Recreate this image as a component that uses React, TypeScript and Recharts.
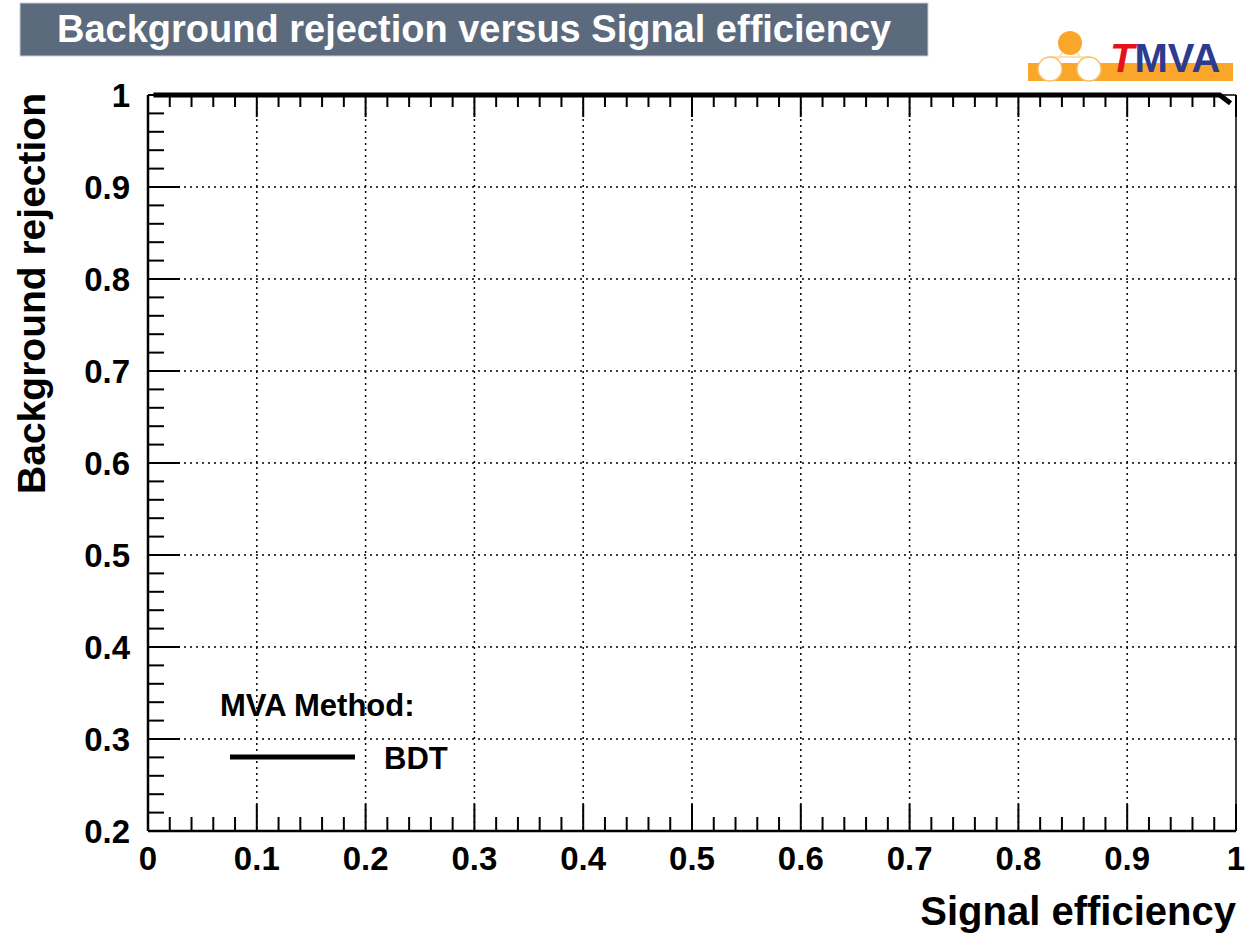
import React from 'react';
import {
  LineChart,
  Line,
  XAxis,
  YAxis,
  CartesianGrid,
  Legend,
} from 'recharts';

// ROC curve of the BDT classifier (signal efficiency vs background rejection)
const efficiency = [0.005, 0.105, 0.205, 0.305, 0.405, 0.505, 0.605, 0.705, 0.805, 0.905, 0.985, 0.995];
const rejection = [1, 1, 1, 1, 1, 1, 1, 1, 1, 1, 1, 0.991];

const xMajorTicks = [0, 0.1, 0.2, 0.3, 0.4, 0.5, 0.6, 0.7, 0.8, 0.9, 1];
const xMinorTicks = [
  0, 0.02, 0.04, 0.06, 0.08, 0.1, 0.12, 0.14, 0.16, 0.18, 0.2, 0.22, 0.24, 0.26, 0.28, 0.3,
  0.32, 0.34, 0.36, 0.38, 0.4, 0.42, 0.44, 0.46, 0.48, 0.5, 0.52, 0.54, 0.56, 0.58, 0.6,
  0.62, 0.64, 0.66, 0.68, 0.7, 0.72, 0.74, 0.76, 0.78, 0.8, 0.82, 0.84, 0.86, 0.88, 0.9,
  0.92, 0.94, 0.96, 0.98, 1,
];
const yMajorTicks = [0.2, 0.3, 0.4, 0.5, 0.6, 0.7, 0.8, 0.9, 1];
const yMinorTicks = [
  0.2, 0.22, 0.24, 0.26, 0.28, 0.3, 0.32, 0.34, 0.36, 0.38, 0.4, 0.42, 0.44, 0.46, 0.48, 0.5,
  0.52, 0.54, 0.56, 0.58, 0.6, 0.62, 0.64, 0.66, 0.68, 0.7, 0.72, 0.74, 0.76, 0.78, 0.8,
  0.82, 0.84, 0.86, 0.88, 0.9, 0.92, 0.94, 0.96, 0.98, 1,
];
// interior grid divisions
const xGridValues = [0.1, 0.2, 0.3, 0.4, 0.5, 0.6, 0.7, 0.8, 0.9];
const yGridValues = [0.3, 0.4, 0.5, 0.6, 0.7, 0.8, 0.9];

const methodNames = ['BDT'];
const titleText = 'Background rejection versus Signal efficiency';
const xTitle = 'Signal efficiency';
const yTitle = 'Background rejection';

const rocData = efficiency.map((e, i) => ({ efficiency: e, rejection: rejection[i] }));

const FONT = '"Liberation Sans", Arial, Helvetica, sans-serif';
const W = 1246;
const H = 936;

const fmt = (v: number) => (v === 0 || v === 1 ? String(v) : v.toFixed(1));
const isMajor = (v: number, majors: number[]) => majors.some((t) => Math.abs(t - v) < 1e-9);

const TICK_W = 2;

// Inward-pointing ROOT-style ticks; (x, y) is the point on the axis line
function BottomTick(props: any) {
  const { x, y, payload } = props;
  const major = isMajor(payload.value, xMajorTicks);
  return (
    <g>
      <line x1={x} x2={x} y1={y} y2={y - (major ? 27 : 14)} stroke="#000" strokeWidth={TICK_W} />
      {major && (
        <text
          x={x}
          y={y + 39}
          textAnchor="middle"
          fontFamily={FONT}
          fontWeight="bold"
          fontSize={33}
          fill="#000"
        >
          {fmt(payload.value)}
        </text>
      )}
    </g>
  );
}

function TopTick(props: any) {
  const { x, y, payload } = props;
  const major = isMajor(payload.value, xMajorTicks);
  return (
    <line x1={x} x2={x} y1={y} y2={y + (major ? 22 : 12)} stroke="#000" strokeWidth={TICK_W} />
  );
}

function LeftTick(props: any) {
  const { x, y, payload } = props;
  const major = isMajor(payload.value, yMajorTicks);
  return (
    <g>
      <line x1={x} x2={x + (major ? 32 : 16)} y1={y} y2={y} stroke="#000" strokeWidth={TICK_W} />
      {major && (
        <text
          x={x - 18}
          y={y + 12}
          textAnchor="end"
          fontFamily={FONT}
          fontWeight="bold"
          fontSize={33}
          fill="#000"
        >
          {fmt(payload.value)}
        </text>
      )}
    </g>
  );
}

function RightTick(props: any) {
  const { x, y, payload } = props;
  const major = isMajor(payload.value, yMajorTicks);
  return (
    <line x1={x} x2={x - (major ? 26 : 13)} y1={y} y2={y} stroke="#000" strokeWidth={TICK_W} />
  );
}

function LegendBox() {
  return (
    <svg width={260} height={100} style={{ overflow: 'visible', position: 'absolute', left: 220, top: 693 }}>
      <text x={0} y={23} fontFamily={FONT} fontWeight="bold" fontSize={31} fill="#000">
        MVA Method:
      </text>
      <line x1={10} x2={135} y1={64} y2={64} stroke="#000" strokeWidth={5} />
      <text x={164} y={76} fontFamily={FONT} fontWeight="bold" fontSize={31} fill="#000">
        {methodNames[0]}
      </text>
    </svg>
  );
}

export default function App() {
  return (
    <div style={{ position: 'absolute', left: 0, top: 0, width: W, height: H, background: '#fff' }}>
      <LineChart
        width={W}
        height={H}
        data={rocData}
        margin={{ top: 94, right: 9, bottom: 104, left: 147 }}
      >
        <CartesianGrid
          xAxisId="b"
          yAxisId="l"
          verticalValues={xGridValues}
          horizontalValues={yGridValues}
          stroke="#000"
          strokeWidth={1.5}
          strokeDasharray="2 4"
        />
        <XAxis
          xAxisId="b"
          dataKey="efficiency"
          type="number"
          domain={[0, 1]}
          ticks={xMinorTicks}
          interval={0}
          height={1}
          tickSize={0}
          tickMargin={0}
          tickLine={false}
          axisLine={{ stroke: '#000', strokeWidth: 2.5 }}
          tick={<BottomTick />}
        />
        <XAxis
          xAxisId="t"
          orientation="top"
          dataKey="efficiency"
          type="number"
          domain={[0, 1]}
          ticks={xMinorTicks}
          interval={0}
          height={1}
          tickSize={0}
          tickMargin={0}
          tickLine={false}
          axisLine={{ stroke: '#000', strokeWidth: 1.5 }}
          tick={<TopTick />}
        />
        <YAxis
          yAxisId="l"
          type="number"
          domain={[0.2, 1]}
          ticks={yMinorTicks}
          interval={0}
          width={1}
          tickSize={0}
          tickMargin={0}
          tickLine={false}
          axisLine={{ stroke: '#000', strokeWidth: 2.5 }}
          tick={<LeftTick />}
        />
        <YAxis
          yAxisId="r"
          orientation="right"
          type="number"
          domain={[0.2, 1]}
          ticks={yMinorTicks}
          interval={0}
          width={1}
          tickSize={0}
          tickMargin={0}
          tickLine={false}
          axisLine={{ stroke: '#000', strokeWidth: 1.5 }}
          tick={<RightTick />}
        />
        <Line
          xAxisId="b"
          yAxisId="l"
          type="linear"
          dataKey="rejection"
          name={methodNames[0]}
          stroke="#000"
          strokeWidth={5}
          dot={false}
          activeDot={false}
          isAnimationActive={false}
        />
        <Legend
          content={<LegendBox />}
          wrapperStyle={{ position: 'absolute', left: 0, top: 0, width: 0, height: 0, overflow: 'visible' }}
        />
      </LineChart>

      {/* title box, TMVA logo and axis titles */}
      <svg
        width={W}
        height={H}
        style={{ position: 'absolute', left: 0, top: 0, pointerEvents: 'none' }}
      >
        <rect x={20} y={3} width={908} height={53} fill="#5c6a7e" stroke="#c9ced6" strokeWidth={1} />
        <text x={57} y={42} fontFamily={FONT} fontWeight="bold" fontSize={38} fill="#fff">
          {titleText}
        </text>

        <rect x={1028} y={63} width={205} height={18} fill="#f9a62a" />
        <line x1={1070} y1={43} x2={1050} y2={69} stroke="#fde2b5" strokeWidth={2} />
        <line x1={1070} y1={43} x2={1089} y2={69} stroke="#fde2b5" strokeWidth={2} />
        <line x1={1050} y1={57} x2={1089} y2={57} stroke="#fde2b5" strokeWidth={2} />
        <circle cx={1070} cy={43} r={12} fill="#f9a62a" />
        <circle cx={1050} cy={69} r={12} fill="#fff" stroke="#fbc06a" strokeWidth={1.5} />
        <circle cx={1089} cy={69} r={12} fill="#fff" stroke="#fbc06a" strokeWidth={1.5} />
        <text x={1110} y={72} fontFamily={FONT} fontWeight="bold" fontSize={40}>
          <tspan fill="#e8101a" fontStyle="italic">T</tspan>
          <tspan fill="#2d3a8e">MVA</tspan>
        </text>

        <text
          x={1236}
          y={925}
          textAnchor="end"
          fontFamily={FONT}
          fontWeight="bold"
          fontSize={40}
          fill="#000"
        >
          {xTitle}
        </text>
        <text
          x={45}
          y={93}
          textAnchor="end"
          transform="rotate(-90 45 93)"
          fontFamily={FONT}
          fontWeight="bold"
          fontSize={39}
          fill="#000"
        >
          {yTitle}
        </text>
      </svg>
    </div>
  );
}
